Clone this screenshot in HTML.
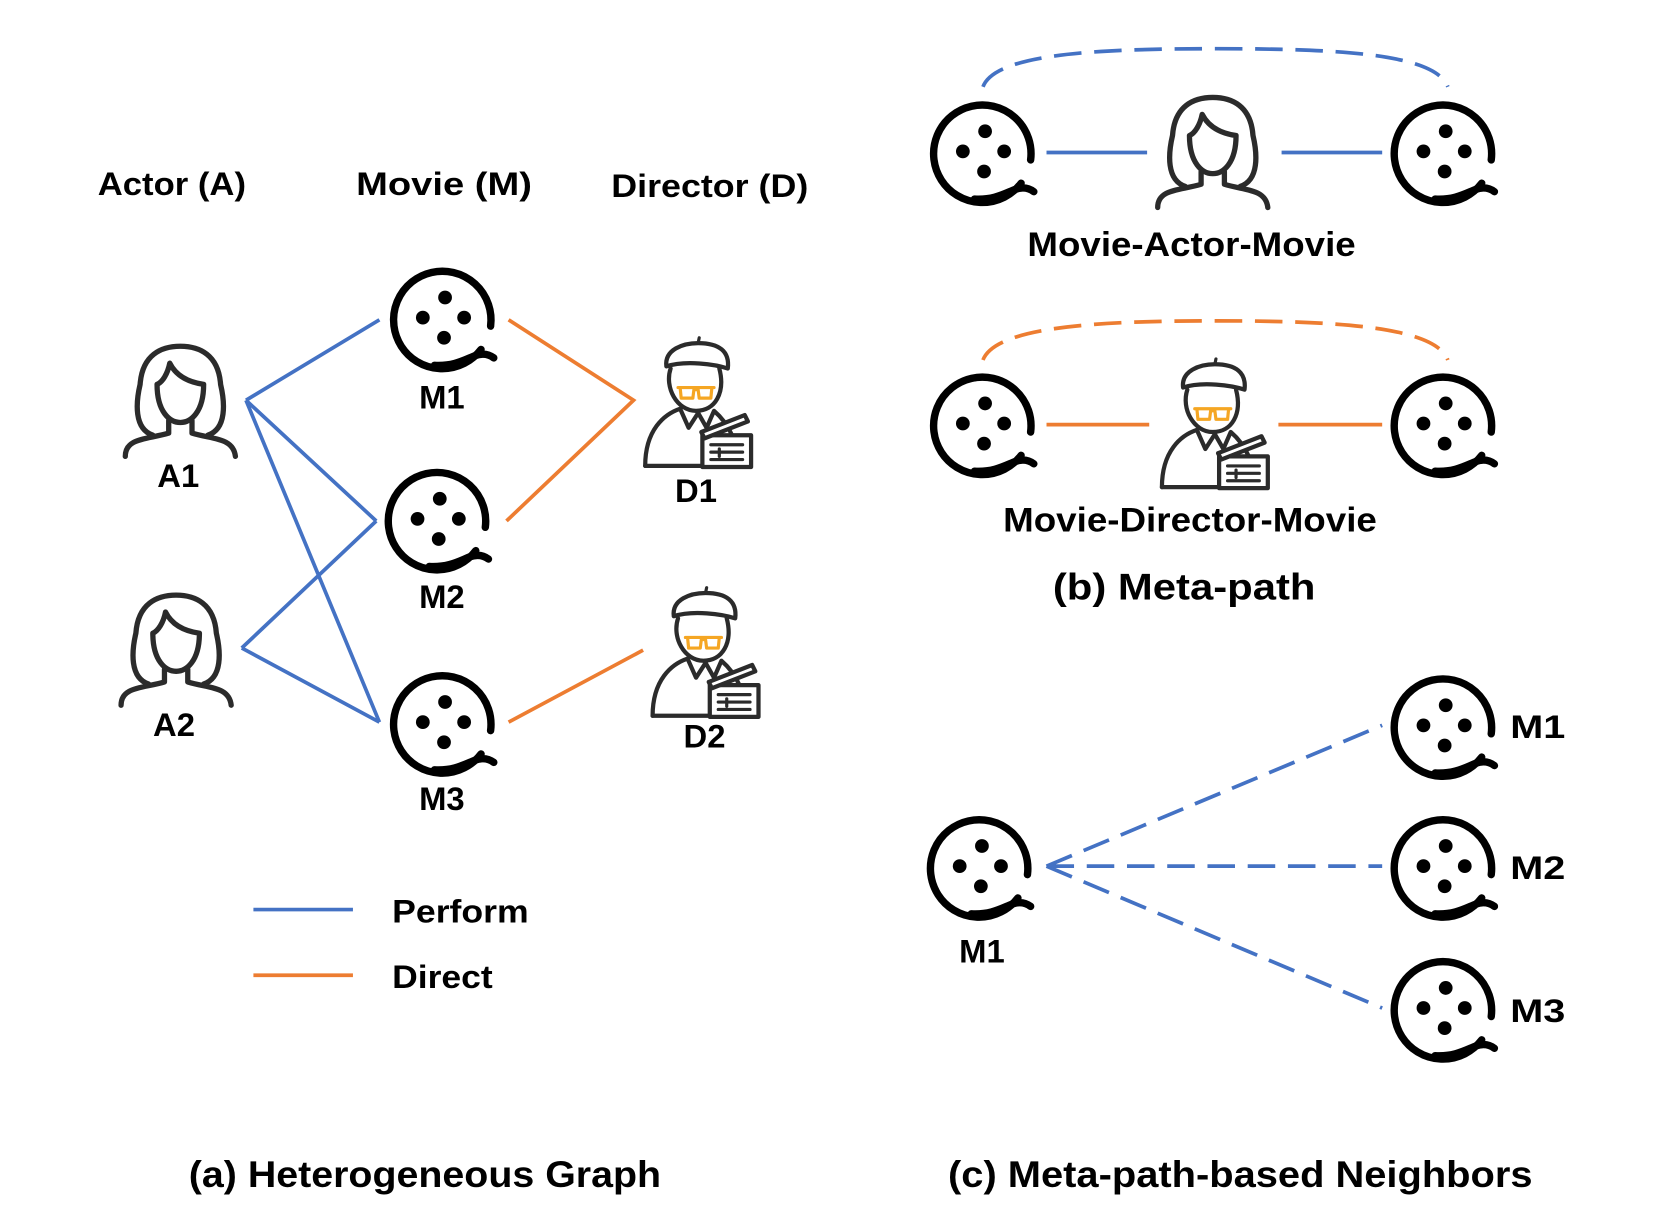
<!DOCTYPE html>
<html><head><meta charset="utf-8"><style>html,body{margin:0;padding:0;background:#fff}svg{display:block}</style></head>
<body>
<svg width="1661" height="1223" viewBox="0 0 1568 1155" xmlns="http://www.w3.org/2000/svg" font-family="'Liberation Sans', sans-serif" font-weight="bold">
<defs>
<g id="mv">
 <path d="M36,30 A46,46 0 1 1 45,8" fill="none" stroke="#000" stroke-width="7" stroke-linecap="round"/>
 <path d="M-8,45 C10,46 20,40 30,36 C38,33 44,35 48,38" fill="none" stroke="#000" stroke-width="7" stroke-linecap="round"/>
 <circle cx="2" cy="-19" r="6.5"/><circle cx="-19" cy="0" r="6.5"/><circle cx="20" cy="0" r="6.5"/><circle cx="1" cy="19" r="6.5"/>
</g>
<g id="ac" fill="none" stroke="#2b2b2b" stroke-width="5" stroke-linecap="round" stroke-linejoin="round">
 <path d="M-26,36 C-44,30 -42,5 -38,-12 C-36,-40 -18,-48 0,-48 C18,-48 36,-40 38,-12 C42,5 44,30 26,36"/>
 <path d="M-22,-12 C-22,14 -10,24 0,24 C10,24 22,14 22,-12 C8,-14 -4,-20 -10,-32 C-12,-22 -17,-14 -22,-12 Z"/>
 <path d="M-11,22 L-11,34 C-30,40 -52,38 -52,56 M11,22 L11,34 C30,40 50,38 52,56"/>
</g>
<g id="dr" stroke-linecap="round" stroke-linejoin="round">
 <path d="M-28,-20 C-30,-36 -12,-42 2,-42 C22,-42 32,-34 30,-18 C18,-22 -10,-26 -28,-20 Z" fill="#fff" stroke="#2b2b2b" stroke-width="4"/>
 <line x1="2" y1="-42" x2="3" y2="-47" stroke="#2b2b2b" stroke-width="3"/>
 <path d="M-24,-18 C-30,0 -18,22 0,22 C18,22 28,5 22,-18" fill="#fff" stroke="#2b2b2b" stroke-width="4"/>
 <path d="M-17,0 H17 M-15,0 L-14,10 L-3,10 L-2,2 L2,2 L3,10 L14,10 L15,0" fill="none" stroke="#f5a623" stroke-width="3"/>
 <path d="M-48,74 C-48,40 -30,25 -15,20 L-7,38 L2,24 L10,38 L17,22 C24,28 30,36 34,45" fill="none" stroke="#2b2b2b" stroke-width="4"/>
 <line x1="-48" y1="74" x2="6" y2="74" stroke="#2b2b2b" stroke-width="4"/>
 <rect x="6" y="45" width="46" height="30" fill="#fff" stroke="#2b2b2b" stroke-width="4"/>
 <path d="M5,42 L46,26 L49,32 L8,48 Z" fill="#fff" stroke="#2b2b2b" stroke-width="4"/>
 <path d="M14,54 H44 M14,61 H44 M14,68 H44 M22,58 V65" stroke="#2b2b2b" stroke-width="3"/>
</g>
</defs>

<g font-size="31" lengthAdjust="spacingAndGlyphs">
<text x="92" y="184" textLength="140" lengthAdjust="spacingAndGlyphs">Actor (A)</text>
<text x="336" y="184" textLength="166" lengthAdjust="spacingAndGlyphs">Movie (M)</text>
<text x="577" y="186" textLength="186" lengthAdjust="spacingAndGlyphs">Director (D)</text>
</g>

<g stroke="#4472c4" stroke-width="3.5" fill="none">
 <path d="M232,378 L358,302 M232,378 L355,492 M232,378 L358,682 M228,612 L355,492 M228,612 L358,682"/>
</g>
<g stroke="#ed7d31" stroke-width="3.5" fill="none">
 <path d="M480,302 L598,378 L478,492 M480,682 L607,614"/>
</g>

<use href="#mv" transform="translate(418,300)"/>
<use href="#mv" transform="translate(413,490)"/>
<use href="#mv" transform="translate(418,682)"/>
<use href="#ac" transform="translate(170,375)"/>
<use href="#ac" transform="translate(166,610)"/>
<use href="#dr" transform="translate(657,366)"/>
<use href="#dr" transform="translate(664,602)"/>

<g font-size="31" text-anchor="middle">
<text x="417" y="386">M1</text>
<text x="417" y="574">M2</text>
<text x="417" y="765">M3</text>
<text x="168" y="460">A1</text>
<text x="164" y="695">A2</text>
<text x="657" y="474">D1</text>
<text x="665" y="706">D2</text>
</g>

<line x1="239" y1="859" x2="333" y2="859" stroke="#4472c4" stroke-width="3.5"/>
<line x1="239" y1="921" x2="333" y2="921" stroke="#ed7d31" stroke-width="3.5"/>
<text x="370" y="871" font-size="31" textLength="129" lengthAdjust="spacingAndGlyphs">Perform</text>
<text x="370" y="933" font-size="31" textLength="95" lengthAdjust="spacingAndGlyphs">Direct</text>
<text x="178" y="1121" font-size="35" textLength="446" lengthAdjust="spacingAndGlyphs">(a) Heterogeneous Graph</text>

<!-- (b) -->
<path d="M928,82 C940,50 1040,46 1148,46 C1260,46 1355,50 1367,82" fill="none" stroke="#4472c4" stroke-width="3.5" stroke-dasharray="26,12"/>
<path d="M988,144 H1083 M1210,144 H1305" stroke="#4472c4" stroke-width="3.5"/>
<use href="#mv" transform="translate(928,143)"/>
<use href="#mv" transform="translate(1363,143)"/>
<use href="#ac" transform="translate(1145,140)"/>
<text x="970" y="242" font-size="32" textLength="310" lengthAdjust="spacingAndGlyphs">Movie-Actor-Movie</text>

<path d="M928,340 C940,308 1040,303 1148,303 C1260,303 1355,308 1367,340" fill="none" stroke="#ed7d31" stroke-width="3.5" stroke-dasharray="26,12"/>
<path d="M988,401 H1085 M1207,401 H1305" stroke="#ed7d31" stroke-width="3.5"/>
<use href="#mv" transform="translate(928,400)"/>
<use href="#mv" transform="translate(1363,400)"/>
<use href="#dr" transform="translate(1145,386)"/>
<text x="947" y="502" font-size="32" textLength="353" lengthAdjust="spacingAndGlyphs">Movie-Director-Movie</text>
<text x="994" y="566" font-size="35" textLength="248" lengthAdjust="spacingAndGlyphs">(b) Meta-path</text>

<!-- (c) -->
<path d="M988,818 L1305,685 M988,818 L1305,818 M988,818 L1305,952" stroke="#4472c4" stroke-width="3.5" stroke-dasharray="26,12" fill="none"/>
<use href="#mv" transform="translate(925,818)"/>
<use href="#mv" transform="translate(1363,685)"/>
<use href="#mv" transform="translate(1363,818)"/>
<use href="#mv" transform="translate(1363,952)"/>
<text x="927" y="909" font-size="31" text-anchor="middle">M1</text>
<text x="1426" y="697" font-size="31" textLength="52" lengthAdjust="spacingAndGlyphs">M1</text>
<text x="1426" y="830" font-size="31" textLength="52" lengthAdjust="spacingAndGlyphs">M2</text>
<text x="1426" y="965" font-size="31" textLength="52" lengthAdjust="spacingAndGlyphs">M3</text>
<text x="895" y="1121" font-size="35" textLength="552" lengthAdjust="spacingAndGlyphs">(c) Meta-path-based Neighbors</text>
</svg>
</body></html>
